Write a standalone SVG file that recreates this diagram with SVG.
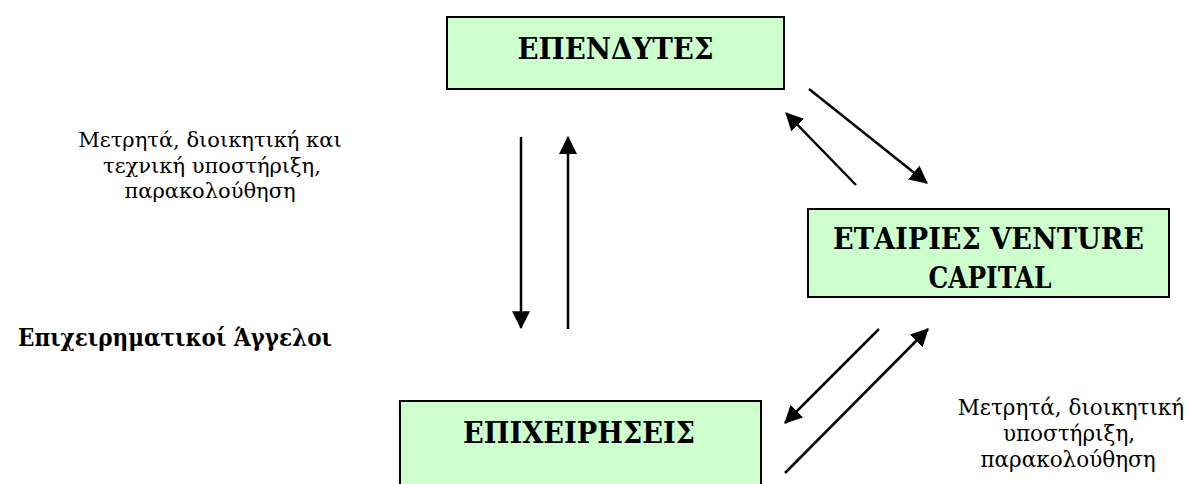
<svg xmlns="http://www.w3.org/2000/svg" width="1187" height="484" viewBox="0 0 1187 484">
<defs>
<style>
text{font-family:'DejaVu Serif','Liberation Serif',serif;fill:#000}
.box{fill:#CCFFCC;stroke:#000;stroke-width:2}
.bt{font-weight:bold;font-size:29px;text-anchor:middle}
.lt{font-size:21px;text-anchor:middle}
.rt{font-size:21.5px;text-anchor:middle}
.ang{font-weight:bold;font-size:24px}
.ar{stroke:#000;stroke-width:2.5;fill:none;marker-end:url(#ah)}
</style>
<marker id="ah" markerUnits="userSpaceOnUse" markerWidth="18" markerHeight="18" viewBox="0 0 16 16" refX="15" refY="8" orient="auto">
<path d="M0,0 L16,8 L0,16 Z" fill="#000"/>
</marker>
</defs>
<rect width="1187" height="484" fill="#fff"/>
<g id="investors">
<rect class="box" x="447" y="17" width="337" height="72"/>
<text class="bt" x="615.5" y="59" textLength="196" lengthAdjust="spacingAndGlyphs">ΕΠΕΝΔΥΤΕΣ</text>
</g>
<g id="vc">
<rect class="box" x="808" y="209" width="361" height="88"/>
<text class="bt" x="988.5" y="249" textLength="311" lengthAdjust="spacingAndGlyphs">ΕΤΑΙΡΙΕΣ VENTURE</text>
<text class="bt" x="990" y="288" textLength="123" lengthAdjust="spacingAndGlyphs">CAPITAL</text>
</g>
<g id="firms">
<rect class="box" x="400" y="401" width="361" height="100"/>
<text class="bt" x="579" y="443" textLength="232" lengthAdjust="spacingAndGlyphs">ΕΠΙΧΕΙΡΗΣΕΙΣ</text>
</g>
<g id="labels">
<text class="lt" x="210" y="147">Μετρητά, διοικητική και</text>
<text class="lt" x="212" y="173">τεχνική υποστήριξη,</text>
<text class="lt" x="210" y="198">παρακολούθηση</text>
<text class="ang" x="18" y="346" textLength="314" lengthAdjust="spacingAndGlyphs">Επιχειρηματικοί Άγγελοι</text>
<text class="rt" x="1071" y="415">Μετρητά, διοικητική</text>
<text class="rt" x="1069" y="441">υποστήριξη,</text>
<text class="rt" x="1068" y="467">παρακολούθηση</text>
</g>
<g id="connectors">
<line class="ar" x1="521" y1="137" x2="521" y2="328"/>
<line class="ar" x1="568" y1="329" x2="568" y2="137"/>
<line class="ar" x1="809" y1="89" x2="927" y2="183"/>
<line class="ar" x1="856" y1="185" x2="786" y2="113"/>
<line class="ar" x1="879" y1="329" x2="785" y2="423"/>
<line class="ar" x1="785" y1="473" x2="928" y2="329"/>
</g>
</svg>
